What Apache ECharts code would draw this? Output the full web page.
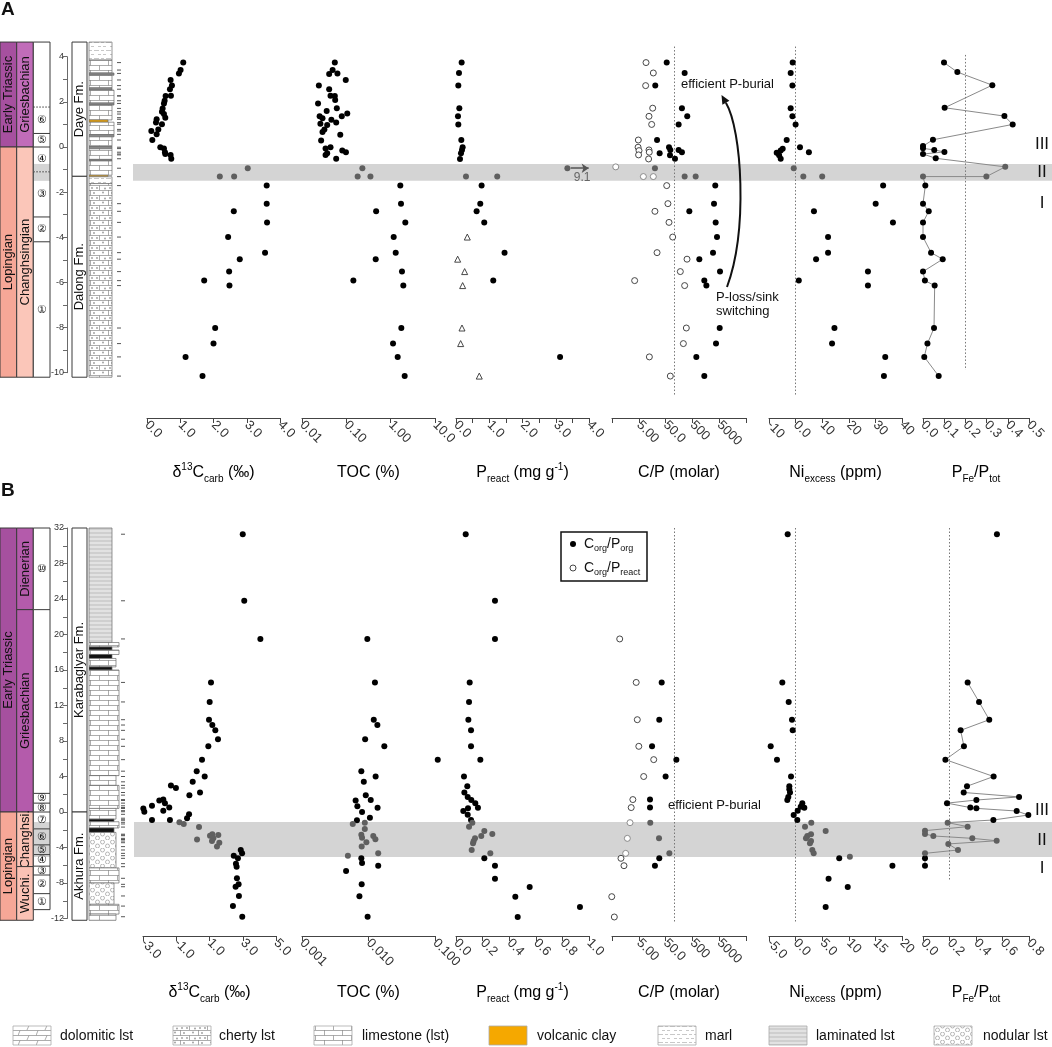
<!DOCTYPE html>
<html>
<head>
<meta charset="utf-8">
<script src="https://cdn.jsdelivr.net/npm/echarts@6/dist/echarts.min.js"></script>
<style>
html,body{margin:0;padding:0;background:#fff}
#chart{width:1052px;height:1047px}
</style>
</head>
<body>
<div id="chart"></div>
<script>
var FONT = '"Liberation Sans", Arial, Helvetica, sans-serif';
var INK = '#000';
var BAND_INK = '#5f5f5f';
var BAND_FILL = '#d4d4d4';
var REDFIELD = 106;

// ---------------- section A : [value, depth (m)] ----------------
var d13cA = [[1.09,3.74],[1.01,3.41],[0.96,3.26],[0.71,2.97],[0.75,2.72],[0.69,2.56],[0.72,2.27],[0.56,2.26],[0.53,2.05],[0.51,1.93],[0.47,1.71],[0.45,1.56],[0.51,1.46],[0.55,1.30],[0.29,1.23],[0.27,1.08],[0.45,1.01],[0.34,0.78],[0.13,0.71],[0.29,0.56],[0.16,0.31],[0.40,-0.01],[0.51,-0.07],[0.54,-0.23],[0.55,-0.31],[0.71,-0.35],[0.73,-0.52],
  [3.60,-1.71],[3.60,-2.51],[2.61,-2.85],[3.61,-3.34],[2.44,-3.99],[3.55,-4.68],[2.79,-4.97],[2.47,-5.52],[1.72,-5.92],[2.48,-6.14],[2.05,-8.02],[2.00,-8.71],[1.16,-9.30],[1.67,-10.15]];
var d13cA_band = [[3.03,-0.94],[2.19,-1.31],[2.62,-1.31]];

var tocA = [[0.055,3.74],[0.049,3.41],[0.041,3.23],[0.063,3.26],[0.097,2.97],[0.024,2.72],[0.041,2.56],[0.044,2.27],[0.055,2.26],[0.056,2.08],[0.023,1.93],[0.061,1.72],[0.036,1.60],[0.105,1.48],[0.079,1.36],[0.025,1.36],[0.029,1.27],[0.046,1.21],[0.026,1.03],[0.037,0.97],[0.059,1.09],[0.032,0.78],[0.029,0.66],[0.073,0.54],[0.027,0.29],[0.044,-0.01],[0.034,-0.07],[0.081,-0.16],[0.098,-0.23],[0.037,-0.28],[0.034,-0.35],[0.059,-0.52],
  [1.65,-1.71],[1.71,-2.51],[0.47,-2.85],[2.14,-3.34],[1.17,-3.99],[1.30,-4.68],[0.46,-4.97],[1.80,-5.52],[0.144,-5.92],[1.93,-6.14],[1.74,-8.02],[1.13,-8.71],[1.44,-9.30],[2.07,-10.15]];
var tocA_band = [[0.23,-0.94],[0.18,-1.31],[0.35,-1.31]];

var preA = [[0.17,3.74],[0.09,3.28],[0.07,2.72],[0.10,1.72],[0.06,1.36],[0.07,1.00],[0.16,0.31],[0.20,-0.01],[0.18,-0.13],[0.15,-0.28],[0.12,-0.53],
  [0.77,-1.71],[0.73,-2.51],[0.62,-2.85],[0.85,-3.34],[1.46,-4.68],[1.12,-5.92],[3.13,-9.30]];
// first band point is off scale (9.1), drawn near the axis edge with an arrow
var preA_band = [[3.35,-0.94],[0.30,-1.31],[1.24,-1.31]];
var preA_tri = [[0.34,-3.99],[0.05,-4.97],[0.26,-5.52],[0.20,-6.14],[0.18,-8.02],[0.14,-8.71],[0.70,-10.15]];

var cpA_org = [[55,3.74],[257,3.28],[20.6,2.72],[203,1.72],[321,1.36],[153,1.00],[24,0.31],[67,-0.01],[75,-0.13],[153,-0.13],[203,-0.23],[30,-0.28],[73,-0.37],[112,-0.52],
  [3570,-1.71],[3200,-2.51],[384,-2.85],[3690,-3.34],[4140,-3.99],[2940,-4.68],[907,-4.97],[5360,-5.52],[1390,-5.92],[1660,-6.14],[5220,-8.02],[3800,-8.71],[701,-9.30],[1390,-10.15]];
var cpA_org_band = [[20,-0.94],[257,-1.31],[662,-1.31]];
var cpA_react = [[9.3,3.74],[17.4,3.28],[9.0,2.72],[16.5,1.72],[12.0,1.36],[15.1,1.00],[4.8,0.31],[4.7,-0.01],[5.1,-0.16],[4.9,-0.35],[12.0,-0.13],[12.3,-0.23],[11.6,-0.53],
  [55,-1.71],[61,-2.51],[20,-2.85],[67,-3.34],[92,-3.99],[24,-4.68],[315,-4.97],[177,-5.52],[3.5,-5.92],[257,-6.14],[297,-8.02],[230,-8.71],[12.4,-9.30],[75,-10.15]];
var cpA_react_band = [[0.69,-0.88],[7.4,-1.31],[17.4,-1.31]];

var niA = [[-1.1,3.74],[-1.85,3.28],[-1.2,2.72],[-1.85,1.72],[-1.2,1.36],[0.0,1.00],[-3.35,0.31],[1.65,-0.01],[-4.85,-0.08],[-5.6,-0.16],[-7.1,-0.25],[-6.2,-0.37],[-5.6,-0.52],[5.0,-0.23],
  [32.9,-1.71],[30.1,-2.51],[6.9,-2.85],[36.6,-3.34],[12.2,-3.99],[12.2,-4.68],[7.7,-4.97],[27.2,-5.52],[1.2,-5.92],[27.2,-6.14],[14.6,-8.02],[13.7,-8.71],[33.7,-9.30],[33.2,-10.15]];
var niA_band = [[-0.7,-0.94],[2.9,-1.31],[10.0,-1.31]];

var pfeA = [[0.099,3.74],[0.162,3.32],[0.327,2.74],[0.102,1.74],[0.384,1.37],[0.423,1.00],[0.047,0.32],[0.0,0.04],[0.0,-0.06],[0.053,-0.13],[0.101,-0.22],[0.0,-0.31],[0.060,-0.50],
  [0.011,-1.71],[0.0,-2.51],[0.027,-2.85],[0.0,-3.34],[0.0,-3.99],[0.038,-4.68],[0.093,-4.97],[0.0,-5.52],[0.009,-5.92],[0.055,-6.14],[0.052,-8.02],[0.021,-8.71],[0.006,-9.30],[0.074,-10.15]];
var pfeA_band = [[0.388,-0.88],[0.299,-1.31],[0.0,-1.31]];

// ---------------- section B ----------------
var d13cB = [[3.0,31.3],[3.09,23.8],[4.06,19.5],[1.09,14.6],[1.01,12.4],[0.97,10.4],[1.17,9.8],[1.35,9.2],[1.51,8.2],[0.93,7.4],[0.55,5.9],[0.23,4.6],[0.71,4.0],[-0.01,3.4],[-1.32,3.0],[-1.02,2.7],[0.43,2.2],[-0.21,1.9],[-2.02,1.3],[-1.78,1.4],[-1.68,1.0],[-1.42,0.5],[-1.78,0.15],[-2.46,0.7],[-2.98,0.4],[-2.92,0.03],[-2.46,-0.9],[-1.38,-0.9],[-0.23,-0.26],[-0.35,-0.7],
  [2.88,-4.28],[2.96,-4.66],[2.46,-4.92],[2.71,-5.22],[2.59,-5.82],[2.63,-6.16],[2.65,-7.47],[2.75,-8.15],[2.57,-8.42],[2.77,-9.46],[2.41,-10.6],[2.97,-11.8]];
var d13cB_band = [[-0.81,-1.16],[-0.55,-1.35],[0.37,-1.7],[0.25,-3.1],[1.03,-2.67],[1.17,-2.5],[1.23,-2.97],[1.15,-3.27],[1.53,-2.59],[1.59,-3.46],[1.45,-3.9]];

var tocB = [[0.0096,19.5],[0.0125,14.6],[0.012,10.4],[0.0136,9.8],[0.0089,8.2],[0.0173,7.4],[0.11,5.9],[0.0078,4.6],[0.0128,4.0],[0.0085,3.4],[0.0091,1.9],[0.0064,1.3],[0.0108,1.35],[0.0068,0.64],[0.0137,0.48],[0.008,0.0],[0.0105,-0.64],[0.0067,-0.94],
  [0.0078,-5.22],[0.008,-5.75],[0.014,-6.05],[0.0046,-6.65],[0.0079,-8.15],[0.0073,-9.5],[0.0097,-11.8]];
var tocB_band = [[0.0058,-1.35],[0.0088,-1.2],[0.0088,-1.92],[0.0078,-2.56],[0.008,-2.9],[0.0093,-3.42],[0.0079,-3.9],[0.0118,-2.7],[0.0127,-3.08],[0.014,-4.66],[0.0049,-4.92]];

var preB = [[0.073,31.3],[0.293,23.8],[0.293,19.5],[0.103,14.6],[0.098,12.4],[0.093,10.4],[0.113,9.2],[0.113,7.4],[0.183,5.9],[0.06,4.0],[0.085,2.9],[0.063,2.2],[0.088,1.7],[0.115,1.35],[0.145,1.0],[0.165,0.49],[0.09,0.41],[0.055,0.11],[0.088,-0.3],[0.113,-0.9],
  [0.213,-5.22],[0.293,-6.05],[0.293,-7.51],[0.554,-8.45],[0.446,-9.54],[0.932,-10.7],[0.464,-11.83]];
var preB_band = [[0.123,-1.2],[0.098,-1.65],[0.213,-2.14],[0.19,-2.7],[0.143,-2.97],[0.133,-3.27],[0.128,-3.53],[0.118,-4.28],[0.273,-2.48],[0.258,-4.66]];

var cpB_org = [[35.7,14.6],[29,10.4],[15.6,7.4],[126,5.9],[50,4.0],[13.1,1.4],[13.1,0.5],[29,-5.22],[20,-6.05]];
var cpB_org_band = [[13.4,-1.2],[28.4,-2.97],[69,-4.66]];
var cpB_react = [[0.97,19.5],[4.0,14.6],[4.4,10.4],[5.0,7.4],[18,5.9],[7.6,4.0],[3.0,1.4],[2.6,0.5],[1.08,-5.22],[1.40,-6.05],[0.49,-9.54],[0.61,-11.83]];
var cpB_react_band = [[2.35,-1.2],[1.87,-2.97],[1.62,-4.66]];

var niB = [[-1.49,31.3],[-2.5,14.6],[-1.3,12.4],[-0.68,10.4],[-0.55,9.2],[-4.68,7.4],[-3.5,5.9],[-0.86,4.0],[-1.18,2.9],[-1.18,2.55],[-1.05,2.2],[-1.37,1.7],[-1.56,1.35],[1.26,1.0],[0.96,0.6],[1.64,0.49],[0.39,0.15],[-0.36,-0.34],[0.32,-0.9],
  [8.2,-5.22],[18.2,-6.05],[6.2,-7.51],[9.8,-8.45],[5.65,-10.7]];
var niB_band = [[2.95,-1.2],[1.77,-1.65],[5.65,-2.14],[2.9,-2.51],[2.2,-2.7],[1.95,-2.97],[2.9,-3.27],[2.7,-3.53],[3.14,-4.28],[3.4,-4.66],[10.2,-5.03]];

var pfeB_single = [[0.558,31.3]];
var pfeB = [[0.337,14.6],[0.423,12.4],[0.5,10.4],[0.284,9.2],[0.309,7.4],[0.169,5.9],[0.533,4.0],[0.332,2.9],[0.307,2.2],[0.725,1.7],[0.403,1.35],[0.181,1.0],[0.357,0.5],[0.403,0.41],[0.707,0.11],[0.795,-0.34],[0.531,-0.9],
  [0.015,-5.22],[0.015,-6.05]];
var pfeB_band = [[0.186,-1.2],[0.337,-1.65],[0.015,-2.1],[0.015,-2.48],[0.078,-2.7],[0.372,-2.97],[0.556,-3.24],[0.191,-3.6],[0.264,-4.28],[0.015,-4.66]];

// ---------------- axis ticks and labels ----------------
var tickA_d13c = [0,1,2,3,4],            labA_d13c = ['0.0','1.0','2.0','3.0','4.0'];
var tickA_toc = [0.01,0.1,1,10],         labA_toc = ['0.01','0.10','1.00','10.0'];
var tickA_pre = [0,0.5,1,1.5,2,2.5,3,3.5,4], labA_pre = ['0.0','','1.0','','2.0','','3.0','','4.0'];
var tick_cp = [0.5,5,50,500,5000,50000], lab_cp = ['','5.00','50.0','500','5000',''];
var tickA_ni = [-10,0,10,20,30,40],      labA_ni = ['-10','0.0','10','20','30','40'];
var tickA_pfe = [0,0.1,0.2,0.3,0.4,0.5], labA_pfe = ['0.0','0.1','0.2','0.3','0.4','0.5'];

var tickB_d13c = [-3,-1,1,3,5],          labB_d13c = ['-3.0','-1.0','1.0','3.0','5.0'];
var tickB_toc = [0.001,0.01,0.1],        labB_toc = ['0.001','0.010','0.100'];
var tickB_pre = [0,0.2,0.4,0.6,0.8,1],   labB_pre = ['0.0','0.2','0.4','0.6','0.8','1.0'];
var tickB_ni = [-5,0,5,10,15,20],        labB_ni = ['-5.0','0.0','5.0','10','15','20'];
var tickB_pfe = [0,0.2,0.4,0.6,0.8],     labB_pfe = ['0.0','0.2','0.4','0.6','0.8'];

var depthTickA = [4,3,2,1,0,-1,-2,-3,-4,-5,-6,-7,-8,-9,-10], depthLabA = [4,2,0,-2,-4,-6,-8,-10];
var depthTickB = [32,30,28,26,24,22,20,18,16,14,12,10,8,6,4,2,0,-2,-4,-6,-8,-10,-12];
var depthLabB = [32,28,24,20,16,12,8,4,0,-4,-8,-12];

var axisNames = ['{t|δ}{sup|13}{t|C}{sub|carb}{t| (‰)}', '{t|TOC (%)}', '{t|P}{sub|react}{t| (mg g}{sup|-1}{t|)}',
  '{t|C/P (molar)}', '{t|Ni}{sub|excess}{t| (ppm)}', '{t|P}{sub|Fe}{t|/P}{sub|tot}'];

// ---------------- stratigraphy: [label, top, base] ----------------
var epochA = [['Early Triassic',4.65,0],['Lopingian',0,-10.2]];
var stageA = [['Griesbachian',4.65,0],['Changhsingian',0,-10.2]];
var zoneA = [['',4.65,1.77,0],['⑥',1.77,0.6,1],['⑤',0.6,0,0],['④',0,-1.1,0],['③',-1.1,-3.1,1],['②',-3.1,-4.2,0],['①',-4.2,-10.2,0]];
var formA = [['Daye Fm.',4.65,-1.3],['Dalong Fm.',-1.3,-10.2]];
// [top, base, lithology, relief class]
var lithoA = [[4.65,3.85,'marl',1],[3.85,3.28,'limestone',1],[3.28,3.18,'dark',2],[3.18,2.62,'limestone',1],[2.62,2.52,'dark',1],
  [2.52,1.95,'limestone',2],[1.95,1.86,'dark',2],[1.86,1.20,'limestone',1],[1.20,1.10,'clay',0],[1.10,0.55,'limestone',2],
  [0.55,0.45,'dark',2],[0.45,0.02,'limestone',1],[0.02,-0.08,'dark',1],[-0.08,-0.55,'limestone',1],[-0.55,-0.62,'dark',1],
  [-0.62,-1.25,'limestone',1],[-1.25,-1.32,'clay',0],[-1.32,-1.62,'marl',1],[-1.62,-10.2,'cherty',1]];

var epochB = [['Early Triassic',32,0],['Lopingian',0,-12.2]];
var stageB = [['Dienerian',32,22.8],['Griesbachian',22.8,0],['Changhsi.',0,-6.15],['Wuchi.',-6.15,-12.2]];
var zoneB = [['⑩',32,22.8,0],['',22.8,2.1,0],['⑨',2.1,1.0,0],['⑧',1.0,0,0],['⑦',0,-1.9,0],['⑥',-1.9,-3.7,0],['⑤',-3.7,-4.8,0],
  ['④',-4.8,-6.1,0],['③',-6.1,-7.1,0],['②',-7.1,-9.2,0],['①',-9.2,-11.0,0]];
var formB = [['Karabaglyar Fm.',32,0],['Akhura Fm.',0,-12.2]];
var lithoB = [[32,19.1,'laminated',1],[19.1,18.6,'limestone',4],[18.6,18.25,'black',1],[18.25,17.75,'limestone',4],[17.75,17.3,'black',1],
  [17.3,16.35,'limestone',3],[16.35,16.0,'black',1],[16.0,4.1,'limestone',4],[4.1,3.0,'limestone',3],[3.0,0.4,'limestone',4],
  [0.4,-0.8,'limestone',3],[-0.8,-1.1,'black',2],[-1.1,-1.8,'limestone',4],[-1.8,-2.3,'black',2],[-2.3,-6.3,'nodular',3],
  [-6.3,-8.0,'limestone',4],[-8.0,-10.4,'nodular',2],[-10.4,-11.5,'limestone',4],[-11.5,-12.2,'limestone',3]];

var bandA = [-0.75,-1.5], bandB = [-1.13,-5.07];

var legendItems = [['dolomitic lst','dolomitic'],['cherty lst','cherty'],['limestone (lst)','limestone'],['volcanic clay','clay'],
  ['marl','marl'],['laminated lst','laminated'],['nodular lst','nodular']];

// ---------------- fills ----------------
var ERA_FILL = {'Early Triassic':'#a6509f','Lopingian':'#f6a797'};
var STAGE_FILL_A = {'Griesbachian':'#c16cb9','Changhsingian':'#fbc6b9'};
var STAGE_FILL_B = {'Dienerian':'#b45bab','Griesbachian':'#b45bab','Changhsi.':'#fbc2b5','Wuchi.':'#fbc2b5'};
var RELIEF_X = [108,112,114,116,119];

function pat(w, h, draw){
  var c = document.createElement('canvas'); c.width = w; c.height = h;
  var g = c.getContext('2d');
  g.fillStyle = '#fff'; g.fillRect(0,0,w,h);
  g.strokeStyle = '#8a8a8a'; g.fillStyle = '#9a9a9a'; g.lineWidth = 0.7;
  draw(g);
  return {image: c, repeat: 'repeat'};
}
function brick(g, slant){
  g.beginPath();
  g.moveTo(0,0.5); g.lineTo(18,0.5); g.moveTo(0,5.5); g.lineTo(18,5.5);
  if (slant){ g.moveTo(2,0.5); g.lineTo(0,5.5); g.moveTo(11,5.5); g.lineTo(9,10); }
  else { g.moveTo(0.5,0); g.lineTo(0.5,5.5); g.moveTo(9.5,5.5); g.lineTo(9.5,10); }
  g.stroke();
}
var PATTERN = {
  limestone: pat(18,10,function(g){ brick(g,false); }),
  dolomitic: pat(18,10,function(g){ brick(g,true); }),
  cherty: pat(18,10,function(g){ brick(g,false);
    [[4,3],[13,2.5],[7,8],[15,8.5],[2,8]].forEach(function(p){ g.beginPath(); g.arc(p[0],p[1],0.9,0,7); g.fill(); }); }),
  marl: pat(12,8,function(g){ g.strokeStyle='#b0b0b0'; g.setLineDash([3,2]);
    g.beginPath(); g.moveTo(0,2.5); g.lineTo(12,2.5); g.moveTo(2,6.5); g.lineTo(14,6.5); g.stroke(); }),
  laminated: pat(4,4,function(g){ g.fillStyle='#e2e2e2'; g.fillRect(0,0,4,4); g.strokeStyle='#c4c4c4'; g.lineWidth=1.3;
    g.beginPath(); g.moveTo(0,1); g.lineTo(4,1); g.stroke(); }),
  nodular: pat(10,8,function(g){ g.strokeStyle='#999';
    [[2.5,2],[7.5,6]].forEach(function(p){ g.beginPath(); g.arc(p[0],p[1],2,0,7); g.stroke(); }); }),
  clay: '#f5a800',
  dark: '#8b8b8b',
  black: '#111'
};

// ---------------- option building ----------------
var grids = [], xAxes = [], yAxes = [], series = [];
function addGrid(box, xa, ya){
  var i = grids.length;
  grids.push(Object.assign({outerBoundsMode:'none', containLabel:false}, box));
  xAxes.push(Object.assign({gridIndex:i, splitLine:{show:false}}, xa));
  yAxes.push(Object.assign({gridIndex:i, splitLine:{show:false}}, ya));
  return i;
}
function fmtFrom(ticks, labs){
  return function(v){
    for (var i = 0; i < ticks.length; i++){
      if (Math.abs(v - ticks[i]) <= Math.abs(ticks[i]) * 1e-6 + 1e-9) return labs[i];
    }
    return '';
  };
}
var NAME_RICH = {
  t:{fontSize:16, fontFamily:FONT, color:INK, lineHeight:22},
  sub:{fontSize:10, fontFamily:FONT, color:INK, lineHeight:10, verticalAlign:'bottom'},
  sup:{fontSize:10, fontFamily:FONT, color:INK, lineHeight:12, verticalAlign:'top'}
};

function rectKid(a, b, style){
  return {type:'rect', shape:{x:a[0], y:a[1], width:b[0]-a[0], height:b[1]-a[1]}, style:style};
}
function columnSeries(g, rows, x0, x1, fillOf, fontSize){
  return {type:'custom', xAxisIndex:g, yAxisIndex:g, silent:true, z:3,
    data: rows.map(function(r){ return [r[1], r[2]]; }),
    renderItem: function(params, api){
      var r = rows[params.dataIndex];
      var a = api.coord([x0, r[1]]), b = api.coord([x1, r[2]]);
      var kids = [rectKid(a, b, {fill:fillOf(r), stroke:'#3a3a3a', lineWidth:1})];
      if (r[0]) kids.push({type:'text', x:(a[0]+b[0])/2, y:(a[1]+b[1])/2, rotation:Math.PI/2,
        style:{text:r[0], fill:'#111', fontSize:fontSize, fontFamily:FONT, align:'center', verticalAlign:'middle'}});
      return {type:'group', children:kids};
    }};
}
function zoneSeries(g, rows, x0, x1, band){
  return {type:'custom', xAxisIndex:g, yAxisIndex:g, silent:true, z:3,
    data: rows.map(function(r){ return [r[1], r[2]]; }),
    renderItem: function(params, api){
      var i = params.dataIndex, r = rows[i];
      var a = api.coord([x0, r[1]]), b = api.coord([x1, r[2]]);
      var kids = [rectKid(a, b, {fill:'#fff'})];
      var t = Math.min(r[1], band[0]), s = Math.max(r[2], band[1]);
      if (t > s) kids.push(rectKid(api.coord([x0, t]), api.coord([x1, s]), {fill:BAND_FILL}));
      var st = {stroke:'#3a3a3a', lineWidth:1};
      kids.push({type:'line', shape:{x1:a[0], y1:a[1], x2:a[0], y2:b[1]}, style:st});
      kids.push({type:'line', shape:{x1:b[0], y1:a[1], x2:b[0], y2:b[1]}, style:st});
      kids.push({type:'line', shape:{x1:a[0], y1:a[1], x2:b[0], y2:a[1]},
        style:{stroke:'#3a3a3a', lineWidth:1, lineDash: r[3] ? [1.5,1.5] : null}});
      if (i === rows.length - 1) kids.push({type:'line', shape:{x1:a[0], y1:b[1], x2:b[0], y2:b[1]}, style:st});
      if (r[0]) kids.push({type:'text', x:(a[0]+b[0])/2, y:(a[1]+b[1])/2,
        style:{text:r[0], fill:'#111', fontSize:11, fontFamily:FONT, align:'center', verticalAlign:'middle'}});
      return {type:'group', children:kids};
    }};
}
function lithoSeries(g, rows, x0){
  return {type:'custom', xAxisIndex:g, yAxisIndex:g, silent:true, z:3,
    data: rows.map(function(r){ return [r[0], r[1]]; }),
    renderItem: function(params, api){
      var r = rows[params.dataIndex];
      var a = api.coord([x0, r[0]]), b = api.coord([RELIEF_X[r[3]], r[1]]);
      return rectKid(a, b, {fill:PATTERN[r[2]], stroke:'#6a6a6a', lineWidth:0.7});
    }};
}

function buildSection(S){
  var lo = S.range[0], hi = S.range[1];
  var top = S.y0 - hi * S.ppm, height = (hi - lo) * S.ppm;
  var offset = S.axisY - (top + height);

  // stratigraphic columns (x axis in px units)
  var gs = addGrid({left:0, top:top, width:125, height:height},
    {type:'value', min:0, max:125, show:false}, {type:'value', min:lo, max:hi, show:false});
  series.push(columnSeries(gs, S.epoch, 0, 16.7, function(r){ return ERA_FILL[r[0]]; }, 13));
  series.push(columnSeries(gs, S.stage, 16.7, 33.3, function(r){ return S.stageFill[r[0]]; }, 13));
  series.push(zoneSeries(gs, S.zone, 33.3, 50, S.band));
  series.push(columnSeries(gs, S.form, 72, 87, function(){ return '#fff'; }, 13));
  series.push(lithoSeries(gs, S.litho, 89));
  series.push({type:'scatter', xAxisIndex:gs, yAxisIndex:gs, silent:true, z:3, symbol:'rect', symbolSize:[4,1],
    itemStyle:{color:'#555', opacity:1}, data: S.samples.map(function(d){ return [S.tickX, d]; })});

  // depth axis
  var dmax = Math.max.apply(null, S.depthTick), dmin = Math.min.apply(null, S.depthTick);
  addGrid({left:67, top:S.y0 - dmax * S.ppm, width:1, height:(dmax - dmin) * S.ppm},
    {type:'value', min:0, max:1, show:false},
    {type:'value', min:dmin, max:dmax, position:'left',
     axisLine:{show:true, lineStyle:{color:'#444', width:0.8}},
     axisTick:{show:true, length:4, customValues:S.depthTick, lineStyle:{color:'#444', width:0.8}},
     axisLabel:{show:true, customValues:S.depthLab, fontSize:9, margin:3, color:'#333', fontFamily:FONT,
       formatter:function(v){ return String(Math.round(v)); }}});

  // grey event band
  var gb = addGrid({left:S.bandLeft, top:top, width:1052 - S.bandLeft, height:height},
    {type:'value', min:0, max:1, show:false}, {type:'value', min:lo, max:hi, show:false});
  series.push({type:'custom', xAxisIndex:gb, yAxisIndex:gb, silent:true, z:0, data:[S.band],
    renderItem:function(params, api){
      return rectKid(api.coord([0, api.value(0)]), api.coord([1, api.value(1)]), {fill:BAND_FILL});
    }});

  // data panels
  S.plots.forEach(function(p, k){
    var g = addGrid({left:p.left, top:top, width:p.width, height:height},
      {type:p.log ? 'log' : 'value', logBase:10, min:p.ticks[0], max:p.ticks[p.ticks.length - 1],
       position:'bottom', offset:offset,
       axisLine:{show:true, onZero:false, lineStyle:{color:'#444', width:1}},
       axisTick:{show:true, length:5, inside:false, customValues:p.ticks, lineStyle:{color:'#444'}},
       axisLabel:{show:true, rotate:-45, margin:5, fontSize:13, color:'#333', fontFamily:FONT,
         customValues:p.ticks.filter(function(t, i){ return p.labs[i] !== ''; }),
         formatter:fmtFrom(p.ticks, p.labs)},
       minorTick:{show:false},
       name:axisNames[k], nameLocation:'middle', nameGap:S.nameGap, nameMoveOverlap:false,
       nameTextStyle:{rich:NAME_RICH}},
      {type:'value', min:lo, max:hi, show:false});
    var base = {xAxisIndex:g, yAxisIndex:g, silent:true, clip:false, z:5};
    function dots(data, color){ return Object.assign({type:'scatter', data:data, symbol:'circle', symbolSize:6,
      itemStyle:{color:color, opacity:1}}, base); }
    function rings(data, color){ return Object.assign({type:'scatter', data:data, symbol:'circle', symbolSize:6,
      itemStyle:{color:'#fff', borderColor:color, borderWidth:0.9, opacity:1}}, base); }
    if (p.line) series.push(Object.assign({type:'line', data:p.dots.concat(p.band).sort(function(u, v){ return v[1] - u[1]; }),
      symbol:'none', lineStyle:{color:'#8a8a8a', width:1}}, base, {z:4}));
    var main = dots(p.dots, INK);
    if (p.ref !== undefined) main.markLine = {silent:true, symbol:'none', animation:false,
      lineStyle:{type:[1.5,2], color:'#777', width:1}, label:{show:false},
      data:[[{coord:[p.ref, p.refSpan[0]]}, {coord:[p.ref, p.refSpan[1]]}]]};
    if (p.rings) series.push(rings(p.rings, '#333'));
    if (p.ringsBand) series.push(rings(p.ringsBand, '#808080'));
    if (p.tri) series.push(Object.assign({type:'scatter', data:p.tri, symbol:'triangle', symbolSize:6,
      itemStyle:{color:'#fff', borderColor:'#333', borderWidth:0.9, opacity:1}}, base));
    if (p.single) series.push(dots(p.single, INK));
    series.push(main);
    var bandDots = dots(p.band, BAND_INK);
    if (p.overflow) bandDots.markLine = {silent:true, animation:false, symbol:['none','arrow'], symbolSize:7,
      lineStyle:{type:'solid', color:'#555', width:1.5},
      label:{show:true, formatter:p.overflow.text, position:'insideStartBottom', color:'#666', fontSize:12, fontFamily:FONT, distance:3},
      data:[[{coord:p.overflow.from}, {coord:p.overflow.to}]]};
    series.push(bandDots);
  });
}

buildSection({
  y0:147, ppm:22.57, range:[-11,5], axisY:418, nameGap:44, bandLeft:133, band:bandA,
  epoch:epochA, stage:stageA, stageFill:STAGE_FILL_A, zone:zoneA, form:formA, litho:lithoA,
  samples:d13cA.concat(d13cA_band).map(function(p){ return p[1]; }), tickX:119,
  depthTick:depthTickA, depthLab:depthLabA,
  plots:[
    {left:147, width:133, ticks:tickA_d13c, labs:labA_d13c, dots:d13cA, band:d13cA_band},
    {left:302, width:133, log:true, ticks:tickA_toc, labs:labA_toc, dots:tocA, band:tocA_band},
    {left:456, width:133, ticks:tickA_pre, labs:labA_pre, dots:preA, band:preA_band, tri:preA_tri,
      overflow:{text:'9.1', from:[3.45,-0.94], to:[3.99,-0.94]}},
    {left:612, width:134, log:true, ticks:tick_cp, labs:lab_cp, dots:cpA_org, band:cpA_org_band,
      rings:cpA_react, ringsBand:cpA_react_band, ref:REDFIELD, refSpan:[4.45,-10.99]},
    {left:769, width:133, ticks:tickA_ni, labs:labA_ni, dots:niA, band:niA_band, ref:0, refSpan:[4.45,-10.99]},
    {left:923, width:106, ticks:tickA_pfe, labs:labA_pfe, dots:pfeA, band:pfeA_band, line:true, ref:0.2, refSpan:[4.08,-9.88]}
  ]
});

buildSection({
  y0:812, ppm:8.875, range:[-12.5,32.5], axisY:936, nameGap:46, bandLeft:134, band:bandB,
  epoch:epochB, stage:stageB, stageFill:STAGE_FILL_B, zone:zoneB, form:formB, litho:lithoB,
  samples:d13cB.concat(d13cB_band).map(function(p){ return p[1]; }), tickX:123,
  depthTick:depthTickB, depthLab:depthLabB,
  plots:[
    {left:143, width:133, ticks:tickB_d13c, labs:labB_d13c, dots:d13cB, band:d13cB_band},
    {left:302, width:133, log:true, ticks:tickB_toc, labs:labB_toc, dots:tocB, band:tocB_band},
    {left:456, width:133, ticks:tickB_pre, labs:labB_pre, dots:preB, band:preB_band},
    {left:612, width:134, log:true, ticks:tick_cp, labs:lab_cp, dots:cpB_org, band:cpB_org_band,
      rings:cpB_react, ringsBand:cpB_react_band, ref:REDFIELD, refSpan:[32,-12.49]},
    {left:769, width:133, ticks:tickB_ni, labs:labB_ni, dots:niB, band:niB_band, ref:0, refSpan:[32,-12.49]},
    {left:923, width:106, ticks:tickB_pfe, labs:labB_pfe, dots:pfeB, band:pfeB_band, single:pfeB_single,
      line:true, ref:0.2, refSpan:[32,-7.7]}
  ]
});

// ---------------- annotations ----------------
function txt(x, y, text, o){
  return {type:'text', x:x, y:y, silent:true, z:20,
    style:Object.assign({text:text, fill:'#111', fontSize:13, fontFamily:FONT, align:'left', verticalAlign:'middle'}, o || {})};
}
var LEG_RICH = {t:{fontSize:14, fontFamily:FONT, color:'#111', lineHeight:18},
  s:{fontSize:9, fontFamily:FONT, color:'#111', lineHeight:9, verticalAlign:'bottom'}};
var graphic = [
  txt(1, 10, 'A', {fontSize:19, fontWeight:'bold'}),
  txt(1, 491, 'B', {fontSize:19, fontWeight:'bold'}),
  txt(681, 84, 'efficient P-burial'),
  txt(716, 297, 'P-loss/sink'),
  txt(716, 311, 'switching'),
  txt(668, 805, 'efficient P-burial'),
  {type:'bezierCurve', silent:true, z:20, shape:{x1:727, y1:287, cpx1:748, cpy1:230, cpx2:742, cpy2:130, x2:725.9, y2:102.8},
    style:{stroke:'#111', lineWidth:2, fill:null}},
  {type:'polygon', silent:true, z:20, shape:{points:[[721.5,95],[729.4,100.8],[722.4,104.8]]}, style:{fill:'#111'}},
  txt(1042, 144, 'III', {fontSize:17, align:'center'}),
  txt(1042, 172, 'II', {fontSize:17, align:'center'}),
  txt(1042, 203, 'I', {fontSize:17, align:'center'}),
  txt(1042, 810, 'III', {fontSize:17, align:'center'}),
  txt(1042, 840, 'II', {fontSize:17, align:'center'}),
  txt(1042, 868, 'I', {fontSize:17, align:'center'}),
  {type:'rect', silent:true, z:20, shape:{x:561, y:532, width:86, height:49}, style:{fill:'#fff', stroke:'#111', lineWidth:1.5}},
  {type:'circle', silent:true, z:21, shape:{cx:573, cy:544, r:3}, style:{fill:'#000'}},
  {type:'circle', silent:true, z:21, shape:{cx:573, cy:568, r:3}, style:{fill:'#fff', stroke:'#333', lineWidth:0.9}},
  txt(584, 544, '{t|C}{s|org}{t|/P}{s|org}', {rich:LEG_RICH}),
  txt(584, 568, '{t|C}{s|org}{t|/P}{s|react}', {rich:LEG_RICH})
];
var legIconX = [13,173,314,489,658,769,934], legTextX = [60,219,362,537,705,816,983];
legendItems.forEach(function(it, i){
  graphic.push({type:'rect', silent:true, z:20, shape:{x:legIconX[i], y:1026, width:38, height:19},
    style:{fill:PATTERN[it[1]], stroke:'#aaa', lineWidth:0.8}});
  graphic.push(txt(legTextX[i], 1036, it[0], {fontSize:14}));
});

var chart = echarts.init(document.getElementById('chart'), null, {renderer:'canvas'});
chart.setOption({
  animation:false,
  backgroundColor:'#fff',
  textStyle:{fontFamily:FONT},
  grid:grids, xAxis:xAxes, yAxis:yAxes, series:series, graphic:graphic
});
</script>
</body>
</html>
